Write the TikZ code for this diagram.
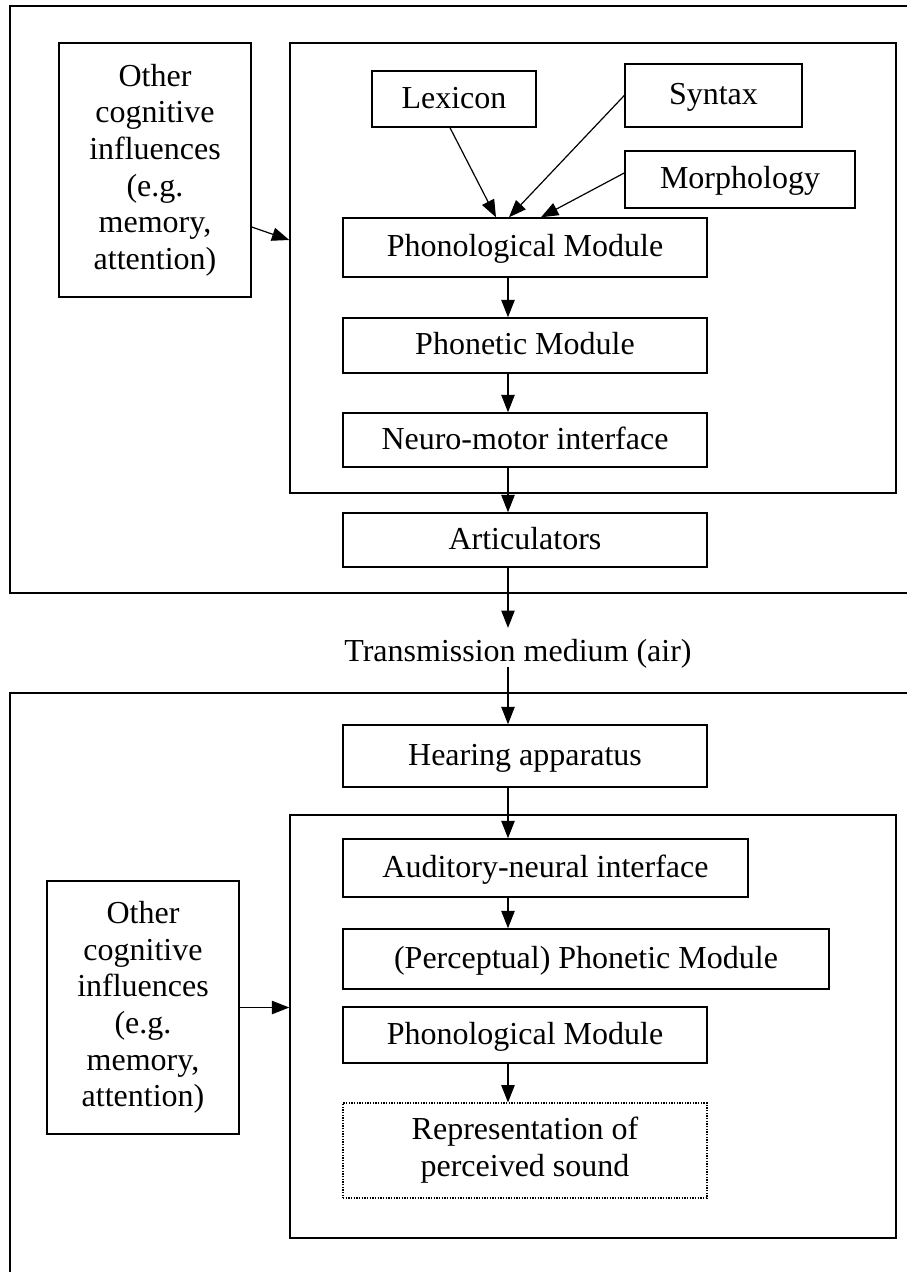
\documentclass[tikz,border=0pt]{standalone}
\usepackage{fontspec}
\setmainfont{Liberation Serif}
\usetikzlibrary{arrows.meta,calc}
\begin{document}
\begin{tikzpicture}[x=0.75pt,y=-0.75pt,
  box/.style={draw,line width=1.1pt,rectangle,inner sep=0pt,align=center,
    font=\fontsize{24}{27.5}\selectfont},
  one/.style={box,text height=19pt,text depth=5pt},
  frame/.style={draw,line width=1.1pt,rectangle,inner sep=0pt},
  outer/.style={draw,line width=1.2pt},
  arr/.style={line width=0.9pt,-{Triangle[length=13pt,width=10pt]}},
  txt/.style={inner sep=0pt,font=\fontsize{24}{27.5}\selectfont}]
\useasboundingbox (0,0) rectangle (907,1272);
\coordinate (vx) at (508,0);
% outer frames
\draw[outer] (907,6) -- (10,6) -- (10,593) -- (907,593);
\draw[outer] (907,693) -- (10,693) -- (10,1272);
% top section
\node[frame,minimum width=454.5pt,minimum height=337.5pt] (inner1) at (593,268) {};
\node[box,minimum width=144pt,minimum height=190.5pt] (other1) at (155,170)
  {Other\\cognitive\\influences\\(e.g.\\memory,\\attention)};
\node[one,minimum width=123pt,minimum height=42pt] (lex) at (454,99) {Lexicon};
\node[one,minimum width=132.75pt,minimum height=47.25pt] (syn) at (713.5,95.5) {Syntax};
\node[one,minimum width=172.5pt,minimum height=42.75pt] (morph) at (740,179.5) {Morphology};
\node[one,minimum width=273pt,minimum height=44.25pt] (phono) at (525,247.5) {Phonological Module};
\node[one,minimum width=273pt,minimum height=41.25pt] (phonetic) at (525,345.5) {Phonetic Module};
\node[one,minimum width=273pt,minimum height=40.5pt] (neuro) at (525,440) {Neuro-motor interface};
\node[one,minimum width=273pt,minimum height=40.5pt] (artic) at (525,540) {Articulators};
\node[txt] (trans) at (518,654) {Transmission medium (air)};
% bottom section
\node[one,minimum width=273pt,minimum height=46.5pt] (hear) at (525,756) {Hearing apparatus};
\node[frame,minimum width=454.5pt,minimum height=317.25pt] (inner2) at (593,1026.5) {};
\node[one,minimum width=303.75pt,minimum height=43.5pt] (aud) at (545.5,868) {Auditory-neural interface};
\node[one,minimum width=364.5pt,minimum height=45pt] (perc) at (586,959) {(Perceptual) Phonetic Module};
\node[one,minimum width=273pt,minimum height=42pt] (phono2) at (525,1035) {Phonological Module};
\node[box,line width=0.8pt,dash pattern=on 1pt off 1pt,minimum width=273pt,minimum height=71.25pt] (repr) at (525,1150.5)
  {\raisebox{-3pt}{\begin{tabular}{@{}c@{}}Representation of\\perceived sound\end{tabular}}};
\node[box,minimum width=144pt,minimum height=189.75pt] (other2) at (143,1007.5)
  {Other\\cognitive\\influences\\(e.g.\\memory,\\attention)};
% arrows top
\draw[arr] ([xshift=-3pt]lex.south) -- ([xshift=-21.75pt]phono.north);
\draw[arr] (syn.west) -- ([xshift=-12pt]phono.north);
\draw[arr] ([yshift=4.9pt]morph.west) -- ([xshift=12pt]phono.north);
\draw[arr] ([yshift=-42.75pt]other1.east) -- ([yshift=21pt]inner1.west);
\draw[arr] (phono.south -| vx) -- (phonetic.north -| vx);
\draw[arr] (phonetic.south -| vx) -- (neuro.north -| vx);
\draw[arr] (neuro.south -| vx) -- (artic.north -| vx);
\draw[arr] (artic.south -| vx) -- ([yshift=8.5pt]trans.north -| vx);
\draw[arr] ([yshift=1pt]trans.south -| vx) -- (hear.north -| vx);
% arrows bottom
\draw[arr] (hear.south -| vx) -- (aud.north -| vx);
\draw[arr] (aud.south -| vx) -- (perc.north -| vx);
\draw[arr] (phono2.south -| vx) -- (repr.north -| vx);
\draw[arr] (other2.east) -- (other2.east -| inner2.west);
\end{tikzpicture}
\end{document}
